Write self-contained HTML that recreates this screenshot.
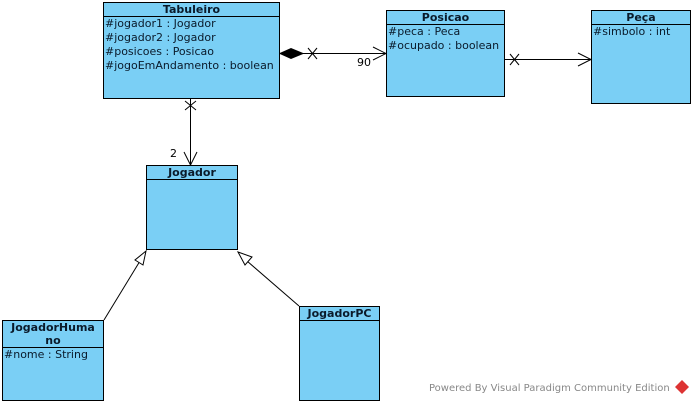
<!DOCTYPE html>
<html><head><meta charset="utf-8"><style>
body{margin:0;width:694px;height:404px;background:#fff;overflow:hidden;position:relative;font-family:"DejaVu Sans","Liberation Sans",sans-serif;}
.c{position:absolute;background:#7acff5;border:1px solid #000;box-sizing:border-box;}
.h{border-bottom:1px solid #000;text-align:center;font-weight:bold;font-size:11px;line-height:13px;color:#0a1a2a;}
.a{font-size:11px;line-height:14px;padding-left:1px;color:#0a1a2a;white-space:nowrap;}
svg{position:absolute;left:0;top:0;}
</style></head><body>
<svg width="694" height="404">
<g stroke="#000" stroke-width="1" fill="none">
<line x1="279" y1="53.5" x2="386" y2="53.5"/>
<polygon points="280,53.5 291,48.5 303,53.5 291,58.5" fill="#000"/>
<path d="M308,48 L317,59 M317,48 L308,59"/>
<path d="M373,47 L386,53.5 L373,60"/>
<line x1="504" y1="59.5" x2="591" y2="59.5"/>
<path d="M510,54 L519,65 M519,54 L510,65"/>
<path d="M578,53 L591,59.5 L578,66"/>
<line x1="190.5" y1="98" x2="190.5" y2="165"/>
<path d="M185,101 L196,110 M196,101 L185,110"/>
<path d="M184,152 L190.5,165 L197,152"/>
<line x1="104" y1="320" x2="140" y2="261"/>
<polygon points="146,251 143,265 135,260" fill="#fff"/>
<line x1="299" y1="306" x2="247" y2="261"/>
<polygon points="238,252 252,257 245,265" fill="#fff"/>
</g>
<text x="357" y="66" font-size="11" font-family="DejaVu Sans,sans-serif">90</text>
<text x="170" y="157" font-size="11" font-family="DejaVu Sans,sans-serif">2</text>
<text x="429" y="391" font-size="10" fill="#888" font-family="DejaVu Sans,sans-serif">Powered By Visual Paradigm Community Edition</text>
<polygon points="682,380 689,387 682,394 675,387" fill="#d33"/>
</svg>
<div class="c" style="left:103px;top:2px;width:177px;height:97px"><div class="h">Tabuleiro</div><div class="a">#jogador1 : Jogador<br>#jogador2 : Jogador<br>#posicoes : Posicao<br>#jogoEmAndamento : boolean</div></div>
<div class="c" style="left:386px;top:10px;width:119px;height:87px"><div class="h">Posicao</div><div class="a">#peca : Peca<br>#ocupado : boolean</div></div>
<div class="c" style="left:591px;top:10px;width:100px;height:94px"><div class="h">Peça</div><div class="a">#simbolo : int</div></div>
<div class="c" style="left:146px;top:165px;width:92px;height:85px"><div class="h">Jogador</div></div>
<div class="c" style="left:2px;top:320px;width:102px;height:81px"><div class="h">JogadorHuma<br>no</div><div class="a">#nome : String</div></div>
<div class="c" style="left:299px;top:306px;width:81px;height:95px"><div class="h">JogadorPC</div></div>
</body></html>
